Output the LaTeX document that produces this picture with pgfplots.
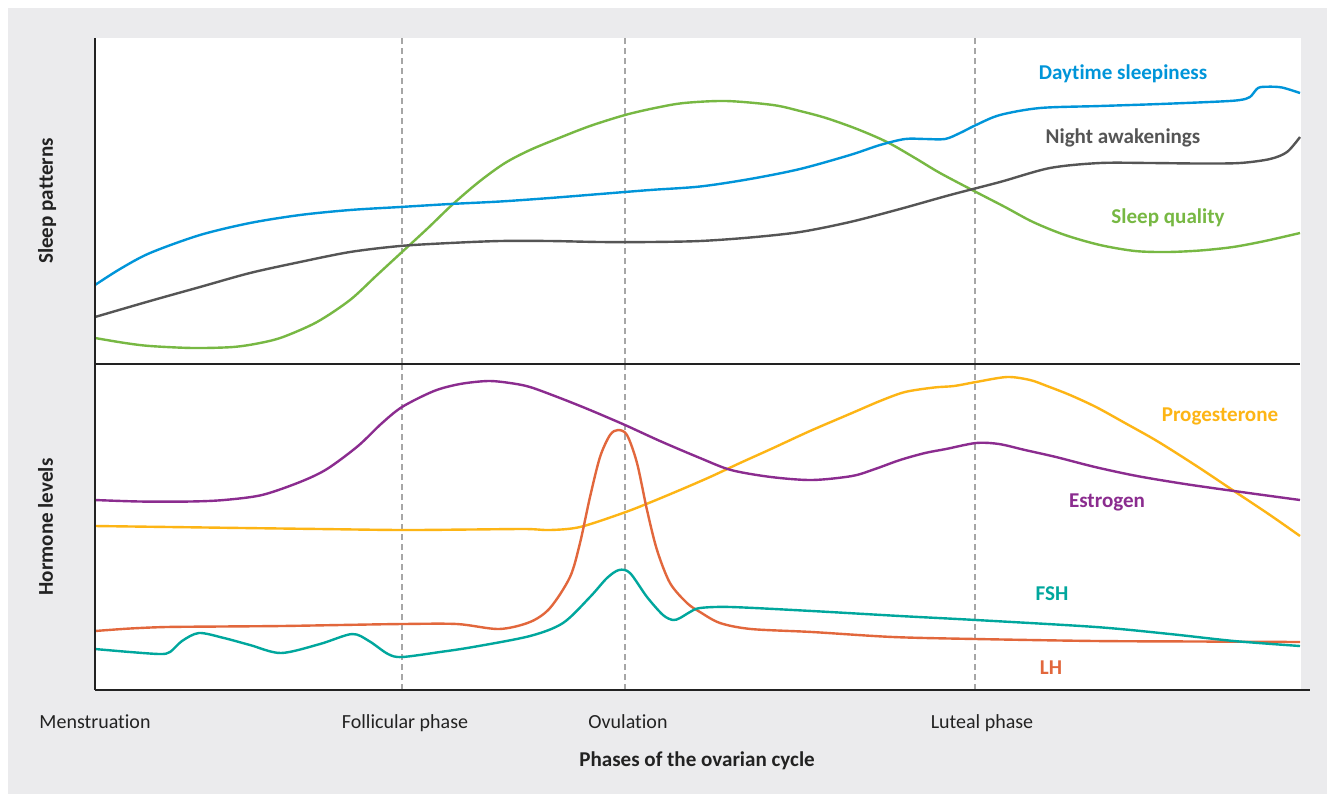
\documentclass[border=0pt]{standalone}
\usepackage{fontspec}
\setmainfont{Carlito}[Ligatures=NoCommon]
\usepackage{pgfplots}
\pgfplotsset{compat=1.18}

\definecolor{bgpanel}{HTML}{EBEBED}
\definecolor{daycol}{HTML}{0095D9}
\definecolor{nightcol}{HTML}{555555}
\definecolor{qualcol}{HTML}{77B843}
\definecolor{progcol}{HTML}{FDB515}
\definecolor{estrcol}{HTML}{8B2C8F}
\definecolor{fshcol}{HTML}{00A79D}
\definecolor{lhcol}{HTML}{E2673C}
\definecolor{phasecol}{HTML}{A6A6A6}
\definecolor{axiscol}{HTML}{222222}

\newcommand{\lblfont}{\fontsize{15.8pt}{18pt}\selectfont\bfseries}
\newcommand{\tickfont}{\fontsize{15pt}{17pt}\selectfont}

\tikzset{
  phase/.style={line width=0.8pt, color=phasecol, dash pattern=on 4.5pt off 3pt, sharp plot},
  curvelabel/.style={font=\lblfont, anchor=center},
}

% x in image pixels, y as level above the panel floor (pixels)
\pgfplotsset{
  panel/.style={
    x=0.75pt, y=0.75pt,
    ymin=0, ymax=326,
    axis line style={draw=none},
    major tick length=0pt,
    ytick=\empty,
    clip=false,
    anchor=south west,
    every axis plot/.append style={line width=1.8pt, smooth, no marks},
    ylabel style={font=\lblfont, color=axiscol, anchor=base},
    tick label style={font=\tickfont, color=axiscol},
  },
}

\begin{document}
\begin{tikzpicture}
\fill[white] (0pt,0pt) rectangle (995.25pt,-595.5pt);
\fill[bgpanel] (6pt,-6pt) rectangle (995.25pt,-595.5pt);
\fill[white] (71.25pt,-28.5pt) rectangle (975.75pt,-517.5pt);

% Sleep patterns
\begin{axis}[panel,
  at={(71.25pt,-273pt)},
  xmin=95, xmax=1300,
  xtick=\empty,
  ylabel={Sleep patterns},
  ylabel style={at={(axis description cs:-0.0349,0.5)}},
]
\addplot[phase] coordinates {(402,0)(402,326)};
\addplot[phase] coordinates {(625,0)(625,326)};
\addplot[phase] coordinates {(975,0)(975,326)};

% Sleep quality
\addplot[qualcol] coordinates {
(95,26)(125,21)(150,18)(193,16)(233,17)(260,21)(283,27)(317,42)(350,64)(376,88)
(402,112)(428,136)(453,160)(480,183)(505,201)(530,214)(559,226)(590,238)(625,249)
(655,256)(684,261)(726,263)(773,259)(800,253)(826,246)(857,235)(887,222)(915,206)
(940,191)(976,172)(1005,157)(1033,142)(1065,129)(1100,119)(1135,113)(1167,112)
(1200,113.5)(1233,117)(1265,123)(1300,131)};
% Night awakenings
\addplot[nightcol] coordinates {
(95,47)(150,63)(200,77)(250,91)(300,102)(350,112)(400,118)(450,121)(500,123)
(550,123)(600,122)(650,122)(700,123)(750,126.5)(800,132)(850,142)(900,155)
(950,169)(1000,182)(1050,196)(1100,201)(1150,201)(1200,200.5)(1240,201)
(1270,205)(1287,212)(1300,227)};
% Daytime sleepiness
\addplot[daycol] coordinates {
(95,79)(120,95)(150,111)(200,129)(250,141)(300,149)(350,154)(400,157)(450,160)
(500,162.5)(550,166)(600,170)(650,174)(700,177.5)(750,185)(800,195)(850,209)
(880,219)(905,225)(925,225)(945,225)(960,231)(976,239)(1000,249)(1040,256)
(1100,258)(1160,260)(1220,262.5)(1240,264)(1250,267)(1258,276)(1268,277.3)
(1282,276.5)(1300,271)};

\node[curvelabel, daycol] at (axis cs:1123,290) {Daytime sleepiness};
\node[curvelabel, nightcol] at (axis cs:1123,226) {Night awakenings};
\node[curvelabel, qualcol] at (axis cs:1168,146) {Sleep quality};
\end{axis}

% Hormone levels
\begin{axis}[panel,
  at={(71.25pt,-517.5pt)},
  xmin=95, xmax=1310,
  xtick={95,405,628,982},
  xticklabels={Menstruation, Follicular phase, Ovulation, Luteal phase},
  xticklabel style={anchor=base, yshift=-28.7pt},
  xlabel={Phases of the ovarian cycle},
  xlabel style={at={(axis description cs:0.4955,-0.2331)}, anchor=base,
    font=\lblfont, color=axiscol},
  ylabel={Hormone levels},
  ylabel style={at={(axis description cs:-0.03457,0.5)}},
]
\addplot[phase] coordinates {(402,0)(402,326)};
\addplot[phase] coordinates {(625,0)(625,326)};
\addplot[phase] coordinates {(975,0)(975,326)};

% Progesterone
\addplot[progcol] coordinates {
(95,164)(170,163)(243,162)(320,161)(402,160)(470,160.5)(526,161)(550,160)(580,163)
(623,177)(650,187.5)(680,200)(710,213)(740,227)(771,241)(810,259)(852,277)
(880,289)(905,298)(934,302.5)(954,304)(976,308)(1007,313)(1030,310)(1047,304)
(1070,295)(1096,283)(1125,267)(1157,249)(1195,225)(1234,199)(1270,175)(1300,154)};
% Estrogen
\addplot[estrcol] coordinates {
(95,190)(140,188.5)(190,188.5)(224,190)(262,195)(300,208)(327,221)(358,244)
(381,266)(402,283)(434,299)(460,306)(488,309)(510,307)(530,303)(560,292)(590,280)
(625,265)(660,249)(700,232)(731,220)(771,213)(812,210)(852,214)(875,221)(900,230)
(925,237)(946,241)(976,247)(999,246)(1025,240)(1056,233)(1095,223)(1137,214)
(1185,206)(1234,199)(1300,190)};
% LH
\addplot[lhcol] coordinates {
(95,59)(130,61.5)(166,63)(220,63.5)(281,64)(340,65)(402,66)(457,66)(499,61)(530,68)
(550,82)(570,113)(580,147)(590,193)(600,233)(610,255)(618,260)(627,255)(637,227)
(647,180)(657,140)(670,107)(687,87)(700,78)(720,67)(751,61)(812,58)(893,53)
(976,51)(1096,49)(1200,48.5)(1300,48)};
% FSH
\addplot[fshcol] coordinates {
(95,41)(130,38)(160,36)(170,38)(182,49)(199,57)(224,52)(250,45)(281,37)(320,46)
(352,56)(369,49)(388,36)(402,33)(440,38)(473,43)(530,54)(563,67)(590,93)(607,112)
(619,120)(630,117)(647,93)(663,75)(673,70)(680,72)(690,78)(700,82)(731,83)(812,79)
(900,74)(976,70)(1096,63)(1170,56)(1234,49)(1300,44)};

\node[curvelabel, progcol] at (axis cs:1220,274) {Progesterone};
\node[curvelabel, estrcol] at (axis cs:1107,188) {Estrogen};
\node[curvelabel, fshcol] at (axis cs:1052,96) {FSH};
\node[curvelabel, lhcol] at (axis cs:1051,22) {LH};
\end{axis}

\draw[axiscol, line width=1pt] (71.25pt,-28.5pt) -- (71.25pt,-517.5pt);
\draw[axiscol, line width=1pt] (71.25pt,-273pt) -- (975pt,-273pt);
\draw[axiscol, line width=1pt] (71.25pt,-517.5pt) -- (982.5pt,-517.5pt);

\pgfresetboundingbox
\useasboundingbox (0pt,0pt) rectangle (995.25pt,-595.5pt);
\end{tikzpicture}
\end{document}
